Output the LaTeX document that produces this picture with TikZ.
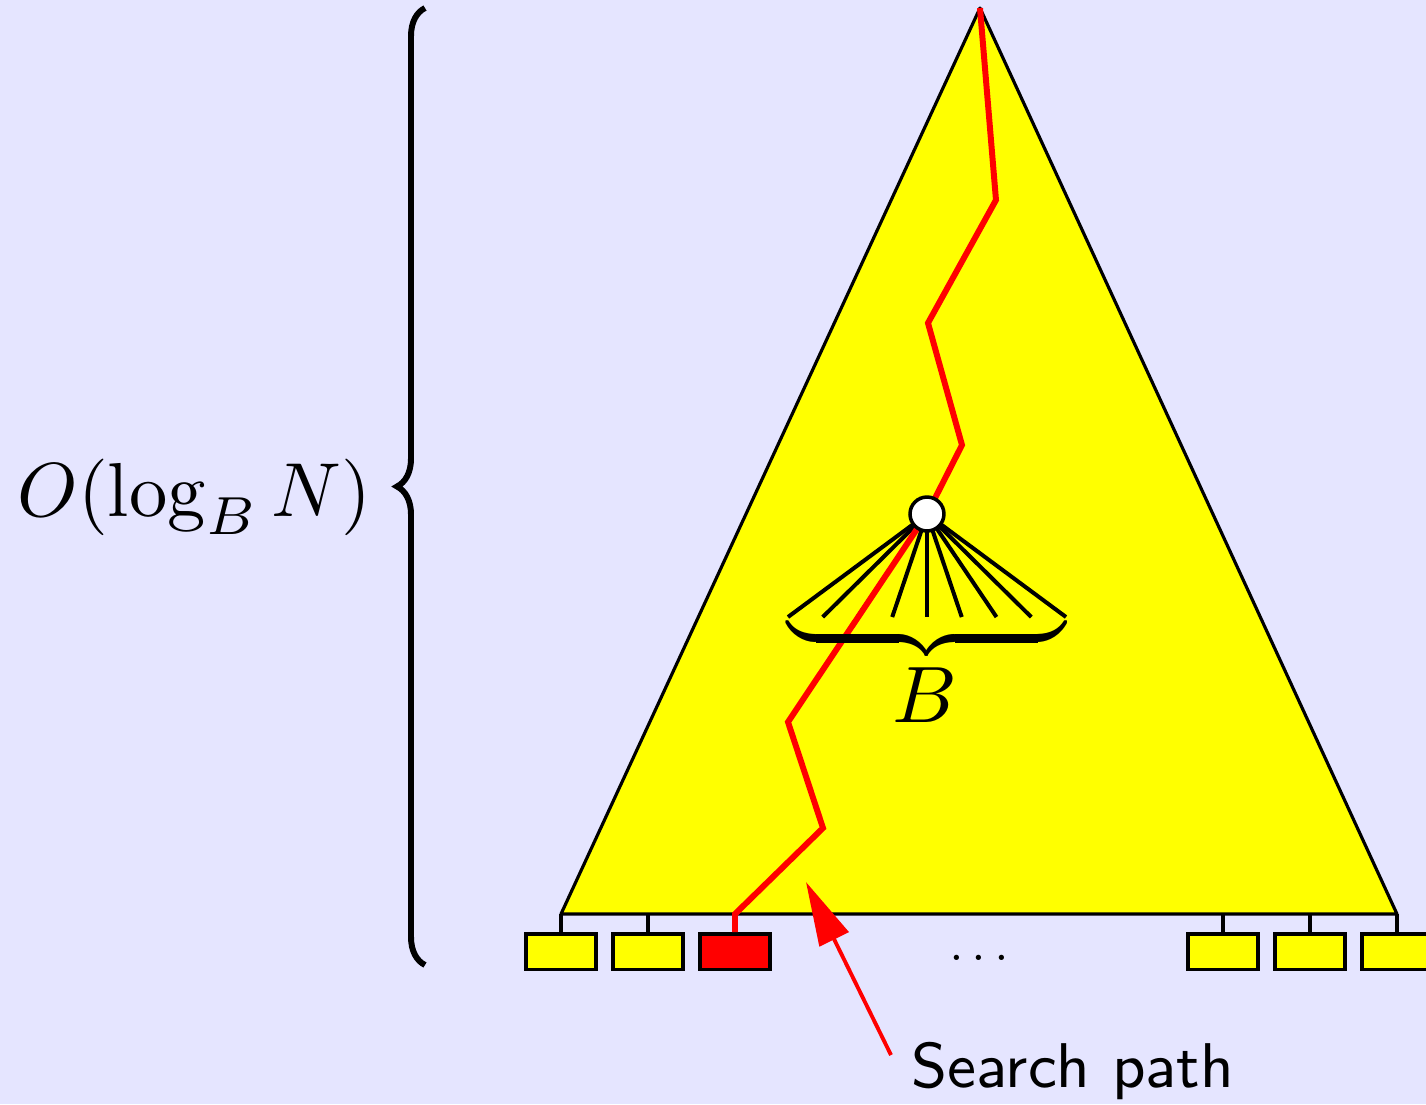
\RequirePackage{fix-cm}
\documentclass[tikz,border=0pt]{standalone}
\usepackage{amsmath}
\usetikzlibrary{arrows.meta, calc, positioning, decorations.pathreplacing}
\definecolor{slidebg}{RGB}{229,229,255}
\definecolor{treefill}{RGB}{255,255,0}
\definecolor{pathred}{RGB}{255,0,0}

\begin{document}
\begin{tikzpicture}[
    x=0.005cm, y=-0.005cm,
    font=\fontsize{11.4}{14}\selectfont,
    tree/.style={draw=black, fill=treefill, line width=0.45pt, line join=round},
    leaf/.style={draw=black, fill=treefill, line width=0.5pt, anchor=north,
        minimum width=0.35cm, minimum height=0.18cm, inner sep=0pt},
    hit/.style={leaf, fill=pathred},
    link/.style={draw=black, line width=0.45pt},
    fan/.style={draw=black, line width=0.57pt},
    hub/.style={circle, draw=black, fill=white, line width=0.5pt,
        minimum size=0.17cm, inner sep=0pt},
    searchpath/.style={draw=pathred, line width=0.85pt, line join=miter},
    pointer/.style={-{Triangle[length=0.32cm, width=0.16cm]}, draw=pathred,
        fill=pathred, line width=0.55pt},
    span/.style={decorate, decoration={brace, amplitude=0.14cm},
        line width=0.85pt}
]
\fill[slidebg] (0,0) rectangle (1426,1104);
\useasboundingbox (0,0) rectangle (1426,1104);
% the tree
\coordinate (apex) at (980,8);
\coordinate (bl) at (561,914);
\coordinate (br) at (1397,914);
\draw[tree] (apex) -- (bl) -- (br) -- cycle;
% leaves
\foreach \x/\name in {561/l1, 648/l2, 1223/l4, 1310/l5, 1397/l6}{
    \node[leaf] (\name) at (\x,932) {};
    \draw[link] (\name.north) -- (\name.north |- bl);
}
\node[hit] (l3) at (735,932) {};
\node[anchor=base, inner sep=0pt] (gap) at (979,960)
    {\fontsize{6.5}{8}\selectfont.\kern1.1pt.\kern1.1pt.};
% node with its B children
\coordinate (hubc) at (927,514);
\foreach \i in {0,...,8}
    \draw[fan] (hubc) -- ({788+34.75*\i},617);
\draw[searchpath] (apex) -- (996,200) -- (928,323) -- (962,445) -- (hubc)
    -- (788,722) -- (823,828) -- (735,914) -- (l3.north);
\node[hub] (hub) at (hubc) {};
\node[anchor=north, inner sep=0pt, font=\fontsize{9}{11}\selectfont]
    (fanbrace) at (927,612) {$\underbrace{\hbox to 1.395cm{}}$};
\node[anchor=base, inner sep=0pt] (bsize) at (925,722) {$B$};
% height brace
\draw[span] (425,965) -- (425,8);
\node[anchor=base east, inner sep=0pt, font=\fontsize{10.9}{13}\selectfont]
    (height) at (373,516) {$O(\log_B N)$};
% label
\node[anchor=base west, inner sep=0pt, font=\fontsize{9}{11}\selectfont\sffamily]
    (searchlbl) at (910,1087) {Search path};
\coordinate (aim) at (806,882);
\draw[pointer] ($(searchlbl.base west)+(-19,-32)$) -- (aim);
\end{tikzpicture}
\end{document}
